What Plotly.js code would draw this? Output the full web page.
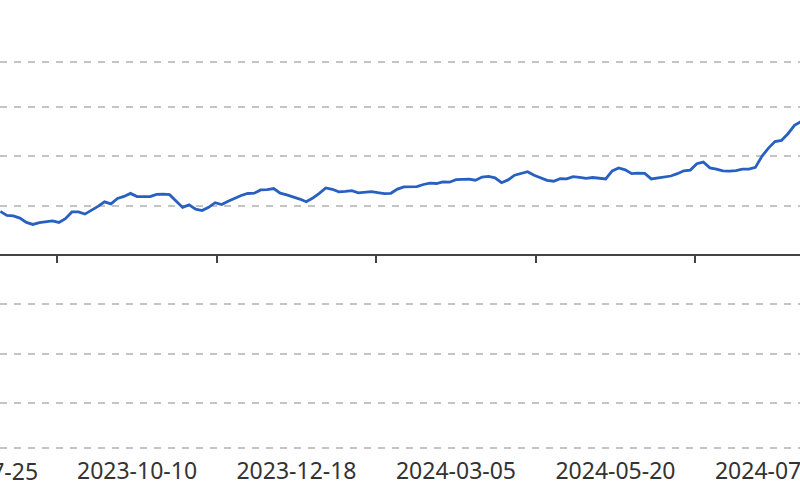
<!DOCTYPE html>
<html><head><meta charset="utf-8">
<script src="https://cdn.plot.ly/plotly-3.0.1.min.js"></script>
<style>html,body{margin:0;padding:0;background:#fff}#chart{width:800px;height:500px}</style>
</head><body><div id="chart"></div>
<script>
// trading-day index (0 = 2023-07-25) and line values
const dayIndex = [7,9,11,13,15,17,19,21,23,25,27,29,31,33,35,37,39,41,43,45,47,49,51,53,55,57,59,61,63,65,67,69,71,73,75,77,79,81,83,85,87,89,91,93,95,97,99,101,103,105,107,109,111,113,115,117,119,121,123,125,127,129,131,133,135,137,139,141,143,145,147,149,151,153,155,157,159,161,163,165,167,169,171,173,175,177,179,181,183,185,187,189,191,193,195,197,199,201,203,205,207,209,211,213,215,217,219,221,223,225,227,229,231,233,235,237,239,241,243,245,247,249,251,253];
const values = [
8.8, 8.0, 7.9, 7.45, 6.58, 6.17, 6.52, 6.76, 6.88, 6.58,
7.33, 8.70, 8.70, 8.26, 9.01, 9.82, 10.73, 10.32, 11.42, 11.84,
12.45, 11.80, 11.80, 11.80, 12.25, 12.31, 12.19, 10.83, 9.62, 10.12,
9.25, 8.97, 9.64, 10.57, 10.20, 10.87, 11.46, 12.02, 12.43, 12.49,
13.16, 13.22, 13.44, 12.49, 12.15, 11.80, 11.30, 10.75, 11.50, 12.47,
13.56, 13.28, 12.77, 12.87, 13.02, 12.57, 12.63, 12.81, 12.59, 12.41,
12.47, 13.32, 13.77, 13.81, 13.83, 14.25, 14.51, 14.45, 14.76, 14.72,
15.24, 15.30, 15.34, 15.12, 15.75, 15.91, 15.59, 14.62, 15.18, 16.13,
16.56, 16.84, 16.11, 15.55, 15.10, 14.92, 15.45, 15.38, 15.85, 15.69,
15.49, 15.67, 15.53, 15.38, 17.00, 17.61, 17.21, 16.44, 16.54, 16.50,
15.38, 15.59, 15.91, 15.97, 16.44, 17.02, 17.17, 18.46, 18.79, 17.61,
17.35, 17.00, 16.96, 17.06, 17.35, 17.35, 17.71, 19.94, 21.62, 22.94,
23.16, 24.53, 26.21, 27.02];
const labelIndex = [0, 49, 98, 147, 196, 245];
const labelText = ['2023-07-25', '2023-10-10', '2023-12-18', '2024-03-05', '2024-05-20', '2024-07-29'];
const tickIndex = [24.5, 73.5, 122.5, 171.5, 220.5];
const gridValues = [-39, -30, -20, -10, 10, 20, 30, 39];

const xRange = [6.9, 252.7];
const yMin = -39.9, yMax = 51.6;
const labelFont = {family: 'Noto Sans, sans-serif', size: 23, color: '#333333'};

const traces = [
  {type: 'scatter', mode: 'lines', x: dayIndex, y: values, xaxis: 'x', yaxis: 'y',
   line: {color: '#2860c2', width: 2.8}, hoverinfo: 'skip'},
  {type: 'scatter', mode: 'lines', x: [], y: [], xaxis: 'x2', yaxis: 'y', hoverinfo: 'skip'}
];

const layout = {
  width: 800, height: 500,
  margin: {l: 0, r: 0, t: 0, b: 48, pad: 0},
  paper_bgcolor: '#ffffff', plot_bgcolor: '#ffffff',
  showlegend: false,
  xaxis: {type: 'linear', range: xRange, tickmode: 'array', tickvals: labelIndex, ticktext: labelText,
          ticks: '', showgrid: false, zeroline: false, showline: false, tickfont: labelFont,
          ticklabeloverflow: 'allow', ticklabelstandoff: 3},
  xaxis2: {type: 'linear', overlaying: 'x', anchor: 'free', side: 'bottom',
           position: (0 - yMin) / (yMax - yMin), range: xRange,
           tickmode: 'array', tickvals: tickIndex, ticks: 'outside', ticklen: 7, tickwidth: 2,
           tickcolor: '#444444', showline: true, linecolor: '#444444', linewidth: 2,
           showticklabels: false, showgrid: false, zeroline: false},
  yaxis: {range: [yMin, yMax], tickmode: 'array', tickvals: gridValues, showticklabels: false,
          ticks: '', showgrid: true, gridcolor: '#c4c4c4', gridwidth: 2, griddash: '7px,7px',
          zeroline: false, showline: false},
  annotations: [{
    xref: 'paper', yref: 'paper',
    x: (labelIndex[0] - xRange[0]) / (xRange[1] - xRange[0]), y: 0,
    xanchor: 'center', yanchor: 'top', yshift: -1,
    text: labelText[0], showarrow: false, font: labelFont
  }]
};

Plotly.newPlot('chart', traces, layout, {staticPlot: true, displayModeBar: false});
</script>
</body></html>
